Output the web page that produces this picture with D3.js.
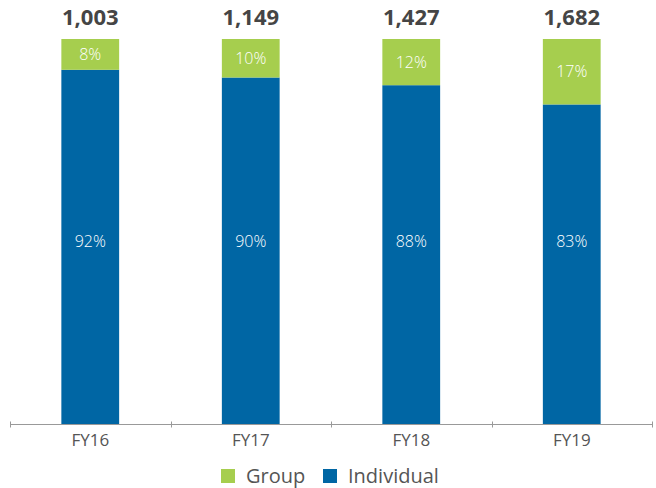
<!DOCTYPE html>
<meta charset="utf-8">
<script src="https://d3js.org/d3.v7.min.js"></script>
<style>
  body { margin: 0; background: #fff; }
  text { font-family: "Open Sans", "Lato", sans-serif; }
</style>
<div id="chart"></div>
<script>

// data
var years = ["FY16", "FY17", "FY18", "FY19"];
var totals = ["1,003", "1,149", "1,427", "1,682"];
var groupPct = [8, 10, 12, 17];
var individualPct = [92, 90, 88, 83];

var width = 656, height = 488;
var margin = {top: 39, left: 10, right: 4, bottom: 64};

var svg = d3.select("#chart")
  .append("svg")
    .attr("width", width)
    .attr("height", height);

var x = d3.scaleBand()
  .domain(years)
  .range([margin.left, width - margin.right])
  .paddingInner(0.64)
  .paddingOuter(0.32);

var y = d3.scaleLinear()
  .domain([0, 100])
  .range([height - margin.bottom, margin.top]);

var green = "#a6ce4e", blue = "#0066a4";

var rows = years.map(function(d, i) {
  return {year: d, total: totals[i], group: groupPct[i], individual: individualPct[i]};
});

// individual (bottom)
svg.append("g").selectAll("rect")
  .data(rows).enter().append("rect")
    .attr("x", function(d) { return x(d.year); })
    .attr("width", x.bandwidth())
    .attr("y", function(d) { return y(d.individual); })
    .attr("height", function(d) { return y(0) - y(d.individual); })
    .attr("fill", blue);

// group (top)
svg.append("g").selectAll("rect")
  .data(rows).enter().append("rect")
    .attr("x", function(d) { return x(d.year); })
    .attr("width", x.bandwidth())
    .attr("y", function(d) { return y(100); })
    .attr("height", function(d) { return y(d.individual) - y(100); })
    .attr("fill", green);

// segment labels
svg.append("g").selectAll("text")
  .data(rows).enter().append("text")
    .attr("x", function(d) { return x(d.year) + x.bandwidth() / 2; })
    .attr("y", function(d) { return (y(100) + y(d.individual)) / 2; })
    .attr("dy", "0.36em")
    .attr("text-anchor", "middle")
    .attr("fill", "#fff")
    .attr("font-size", "16px")
    .attr("font-weight", 300)
    .text(function(d) { return d.group + "%"; });

svg.append("g").selectAll("text")
  .data(rows).enter().append("text")
    .attr("x", function(d) { return x(d.year) + x.bandwidth() / 2; })
    .attr("y", 241)
    .attr("dy", "0.36em")
    .attr("text-anchor", "middle")
    .attr("fill", "#fff")
    .attr("font-size", "16px")
    .attr("font-weight", 300)
    .text(function(d) { return d.individual + "%"; });

// totals
svg.append("g").selectAll("text")
  .data(rows).enter().append("text")
    .attr("x", function(d) { return x(d.year) + x.bandwidth() / 2; })
    .attr("y", 25)
    .attr("text-anchor", "middle")
    .attr("fill", "#454545")
    .attr("font-size", "22px")
    .attr("font-weight", "bold")
    .text(function(d) { return d.total; });

// axis with ticks between categories
var base = y(0) + 0.5;
svg.append("line")
  .attr("x1", margin.left).attr("x2", width - margin.right)
  .attr("y1", base).attr("y2", base)
  .attr("stroke", "#999").attr("stroke-width", 1);

var step = x.step();
var tickPos = d3.range(years.length + 1).map(function(i) { return margin.left + i * step; });
svg.append("g").selectAll("line")
  .data(tickPos).enter().append("line")
    .attr("x1", function(d) { return Math.round(d) + 0.5; })
    .attr("x2", function(d) { return Math.round(d) + 0.5; })
    .attr("y1", base - 3).attr("y2", base + 3)
    .attr("stroke", "#999");

svg.append("g").selectAll("text")
  .data(years).enter().append("text")
    .attr("x", function(d) { return x(d) + x.bandwidth() / 2; })
    .attr("y", 446)
    .attr("text-anchor", "middle")
    .attr("fill", "#555")
    .attr("font-size", "17px")
    .text(function(d) { return d; });

// legend
var legend = [{name: "Group", color: green, x: 221}, {name: "Individual", color: blue, x: 323}];
var lg = svg.append("g").selectAll("g")
  .data(legend).enter().append("g")
    .attr("transform", function(d) { return "translate(" + d.x + ",469)"; });
lg.append("rect").attr("width", 14).attr("height", 14).attr("fill", function(d) { return d.color; });
lg.append("text")
  .attr("x", 25).attr("y", 14)
  .attr("fill", "#555")
  .attr("font-size", "20px")
  .text(function(d) { return d.name; });

</script>
